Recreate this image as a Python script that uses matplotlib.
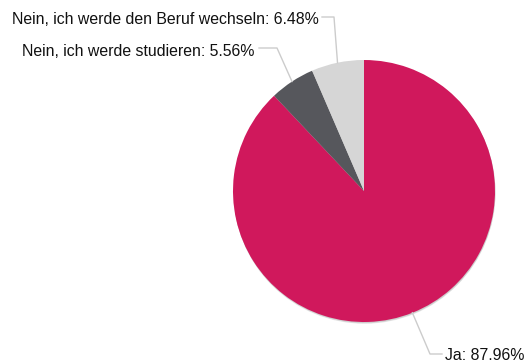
import numpy as np
import matplotlib
matplotlib.use("Agg")
import matplotlib.pyplot as plt
from matplotlib.patches import Circle

labels = ["Ja", "Nein, ich werde studieren", "Nein, ich werde den Beruf wechseln"]
shares = [87.96, 5.56, 6.48]
colors = ["#D0185C", "#56575C", "#D6D6D6"]

W, H = 526, 363
CX, CY, R = 364, 172, 131

# leader line elbow / end points and text anchor (canvas pixels, y up)
elbows = [(430, 9), (277, 315), (334, 346)]
ends = [(442, 9), (259, 315), (322, 346)]
text_pos = [(445, 8, "left"), (255, 312, "right"), (319, 343, "right")]

fig = plt.figure(figsize=(W / 100, H / 100), dpi=100)
ax = fig.add_axes([0, 0, 1, 1])

# soft drop shadow under the pie
for i, a in enumerate([0.05, 0.07, 0.09]):
    ax.add_patch(Circle((CX + 0.5, CY - 0.8 - i * 0.5), R, color="black",
                        alpha=a, lw=0, zorder=0))

wedges, _ = ax.pie(shares, colors=colors, startangle=90, counterclock=False,
                   center=(CX, CY), radius=R, frame=True,
                   wedgeprops={"linewidth": 0})
ax.set_xlim(0, W)
ax.set_ylim(0, H)
ax.set_aspect("equal")
ax.axis("off")

start = 90.0
for i, (lab, v) in enumerate(zip(labels, shares)):
    sweep = v / 100 * 360
    mid = np.deg2rad(start - sweep / 2)
    start -= sweep
    px, py = CX + R * np.cos(mid), CY + R * np.sin(mid)
    ex, ey = elbows[i]
    tx, ty = ends[i]
    ax.plot([px, ex, tx], [py, ey, ty], color="#CCCCCC", lw=1, zorder=1)
    x, y, ha = text_pos[i]
    ax.text(x, y, f"{lab}: {v:.2f}%", ha=ha, va="center", fontsize=11.4,
            family="Liberation Sans", color="#111111")

fig.savefig("out.png", dpi=100)
